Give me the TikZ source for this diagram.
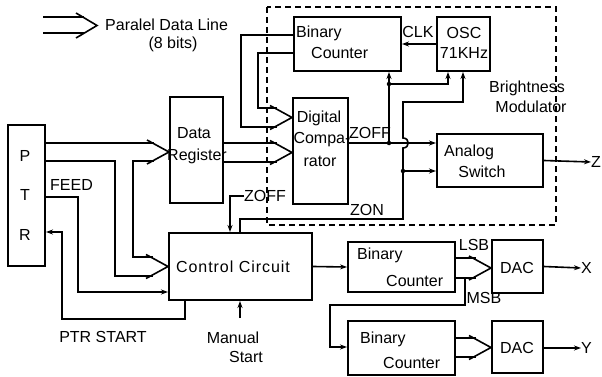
\documentclass[tikz,border=0pt]{standalone}
\usepackage{fontspec}
\setmainfont{Liberation Sans}
\usetikzlibrary{arrows.meta,calc}
\newcommand\chev[1]{\draw[wire] (#1) ++(-22,-12) -- (#1) -- ++(-22,12);}
\begin{document}
\begin{tikzpicture}[x=1pt,y=-1pt,
  blk/.style={draw, line width=2pt, inner sep=0pt},
  lbl/.style={inner sep=0pt, font=\fontsize{16}{18}\selectfont},
  wire/.style={line width=1.6pt},
  sarr/.style={wire, -{Stealth[length=7pt,width=5pt]}},
  jdot/.style={circle, fill, inner sep=0pt, minimum size=4.5pt}]
\useasboundingbox (0,0) rectangle (602,377);
% dashed modulator frame
\draw[line width=1.6pt, dash pattern=on 6pt off 4pt] (267,7) rectangle (556,225);
% boxes
\node[blk, minimum width=37pt, minimum height=141pt] (ptr) at (26.5,195.5) {};
\node[blk, minimum width=53pt, minimum height=106pt] (dr) at (196.5,150) {};
\node[blk, minimum width=107pt, minimum height=54pt] (bc1) at (347.5,44) {};
\node[blk, minimum width=53pt, minimum height=54pt] (osc) at (463.5,44) {};
\node[blk, minimum width=55pt, minimum height=106pt] (dc) at (320.5,151) {};
\node[blk, minimum width=106pt, minimum height=53pt] (as) at (490,160.5) {};
\node[blk, minimum width=143pt, minimum height=67pt] (cc) at (240.5,266.5) {};
\node[blk, minimum width=107pt, minimum height=50pt] (bcx) at (401.5,267) {};
\node[blk, minimum width=51pt, minimum height=53pt] (dacx) at (517.5,266.5) {};
\node[blk, minimum width=107pt, minimum height=54pt] (bcy) at (401.5,348) {};
\node[blk, minimum width=51pt, minimum height=52pt] (dacy) at (517.5,347) {};
% texts
\node[lbl, anchor=west] (legt) at (105,25) {Paralel Data Line};
\node[lbl] (legb) at (173,44) {(8 bits)};
\node[lbl] (p) at (25,156) {P};
\node[lbl] (t) at (25,195) {T};
\node[lbl] (r) at (25,235) {R};
\node[lbl, anchor=west] (feed) at (50,185) {FEED};
\node[lbl] (drt1) at (194,133) {Data};
\node[lbl] (drt2) at (197,156) {Register};
\node[lbl, anchor=west] (bc1t1) at (296,33) {Binary};
\node[lbl, anchor=west] (bc1t2) at (311,53) {Counter};
\node[lbl] (clk) at (418,32) {CLK};
\node[lbl] (osct1) at (464,33) {OSC};
\node[lbl] (osct2) at (464,53) {71KHz};
\node[lbl] (bm1) at (527,88) {Brightness};
\node[lbl] (bm2) at (531,107) {Modulator};
\node[lbl] (dct1) at (319,118) {Digital};
\node[lbl] (dct2) at (322,140) {Compa-};
\node[lbl] (dct3) at (320,161) {rator};
\node[lbl] (zoff1) at (370,133) {ZOFF};
\node[lbl] (ast1) at (469,152) {Analog};
\node[lbl] (ast2) at (482,172) {Switch};
\node[lbl] (zon) at (367,210) {ZON};
\node[lbl, anchor=west] (zoff2) at (244,196) {ZOFF};
\node[lbl, font=\fontsize{16}{18}\selectfont\addfontfeatures{LetterSpace=6}] (cct) at (233,267) {Control Circuit};
\node[lbl] (ptrs) at (103,337) {PTR START};
\node[lbl] (man1) at (233,338) {Manual};
\node[lbl] (man2) at (246,357) {Start};
\node[lbl, anchor=west] (bcxt1) at (357,255) {Binary};
\node[lbl, anchor=west] (bcxt2) at (386,281) {Counter};
\node[lbl] (lsb) at (474,245) {LSB};
\node[lbl] (msb) at (484,298) {MSB};
\node[lbl] (dacxt) at (517,268) {DAC};
\node[lbl, anchor=west] (xo) at (581,268) {X};
\node[lbl, anchor=west] (bcyt1) at (360,339) {Binary};
\node[lbl, anchor=west] (bcyt2) at (383,363) {Counter};
\node[lbl] (dacyt) at (517,348) {DAC};
\node[lbl, anchor=west] (yo) at (581,348) {Y};
\node[lbl, anchor=west] (zo) at (591,162) {Z};
% legend bus arrow
\coordinate (legtip) at (97,25.5);
\draw[wire] (43,17) -- (84,17);
\draw[wire] (43,33) -- (84,33);
\draw[wire] (legtip) ++(-21,-12.5) -- (legtip) -- ++(-21,12.5);
% PTR -> Data Register and Control Circuit
\coordinate (drtip) at (dr.west |- 0,152);
\draw[wire] (ptr.east |- 0,143) -- (154,143);
\draw[wire] (154,161) -- (133,161) -- (133,257) -- (153,257);
\draw[wire] (ptr.east |- 0,161) -- (115,161) -- (115,276) -- (153,276);
\chev{drtip}
\coordinate (cctip) at (cc.west);
\chev{cctip}
% FEED
\draw[sarr] (ptr.east |- 0,197) -- (78,197) -- (78,292) -- (cc.west |- 0,292);
% PTR START
\draw[sarr] (185,0 |- cc.south) -- (185,319) -- (62,319) -- (62,232) -- (ptr.east |- 0,232);
% Manual start
\draw[sarr] (240,318) -- (240,0 |- cc.south);
% Data register -> comparator
\coordinate (dctip2) at (dc.west |- 0,152.5);
\draw[wire] (dr.east |- 0,143) -- (277,143);
\draw[wire] (dr.east |- 0,162) -- (277,162);
\chev{dctip2}
% Binary counter -> comparator
\coordinate (dctip1) at (dc.west |- 0,117.5);
\draw[wire] (bc1.west |- 0,35) -- (241,35) -- (241,127) -- (277,127);
\draw[wire] (bc1.west |- 0,53) -- (258,53) -- (258,108) -- (277,108);
\chev{dctip1}
% CLK
\draw[sarr] (osc.west) -- (bc1.east);
% ZOFF
\draw[sarr] (dc.east |- 0,143) -- (as.west |- 0,143);
\draw[sarr] (389,143) -- (389,0 |- bc1.south);
\draw[sarr] (389,84) -- (448,84) -- (448,0 |- osc.south);
\node[jdot] (j1) at (389,143) {};
\node[jdot] (j2) at (389,84) {};
% ZON
\draw[sarr] (240,0 |- cc.north) -- (240,219) -- (403,219) -- (403,148)
  .. controls (410,148) and (410,138) .. (403,138) -- (403,102) -- (463,102) -- (463,0 |- osc.south);
\draw[sarr] (403,171) -- (as.west |- 0,171);
\node[jdot] (j3) at (403,171) {};
% ZOFF into control circuit
\draw[sarr] (zoff2.west) -- (230,196) -- (230,0 |- cc.north);
% control -> counter X
\draw[sarr] (cc.east) -- (bcx.west);
% counter X -> DAC X
\coordinate (dxtip) at (dacx.west |- 0,268);
\draw[wire] (bcx.east |- 0,258) -- (476,258);
\draw[wire] (bcx.east |- 0,278) -- (476,278);
\chev{dxtip}
% MSB -> counter Y
\draw[sarr] (465,278) -- (465,305) -- (330,305) -- (330,347) -- (bcy.west |- 0,347);
% counter Y -> DAC Y
\coordinate (dytip) at (dacy.west |- 0,347.5);
\draw[wire] (bcy.east |- 0,338) -- (476,338);
\draw[wire] (bcy.east |- 0,357) -- (476,357);
\chev{dytip}
% outputs
\draw[sarr] (as.east) -- (zo.west);
\draw[sarr] (dacx.east) -- (xo.west);
\draw[sarr] (dacy.east |- 0,348) -- (yo.west);
\end{tikzpicture}
\end{document}
